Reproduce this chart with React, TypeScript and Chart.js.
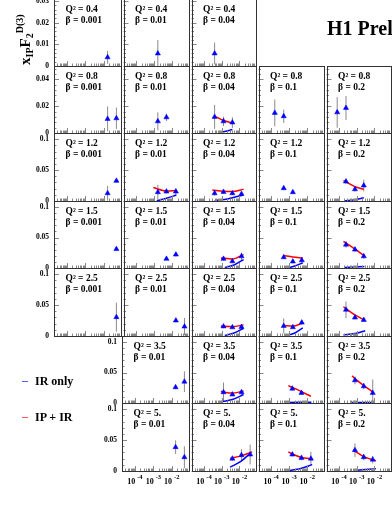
import React, { useEffect, useRef } from 'react';
import { Chart, registerables } from 'chart.js';

Chart.register(...registerables);

// ---------------- data ----------------
const Q2_LABELS = ['0.4', '0.8', '1.2', '1.5', '2.5', '3.5', '5.'];
const BETA_LABELS = ['0.001', '0.01', '0.04', '0.1', '0.2'];

const Y_MAX = [0.031, 0.05, 0.11, 0.11, 0.11, 0.11, 0.11];
const Y_MINOR_STEP = [0.002, 0.004, 0.01, 0.01, 0.01, 0.01, 0.01];
const Y_TICK_LABELS = [
  ['0', '0.01', '0.02', '0.03'],
  ['0', '0.02', '0.04'],
  ['0', '0.05', '0.1'],
  ['0', '0.05', '0.1'],
  ['0', '0.05', '0.1'],
  ['0', '0.05', '0.1'],
  ['0', '0.05', '0.1'],
];

const X_MIN = 2e-5;
const X_MAX = 0.08;
const X_TICK_VALUES = [1e-4, 1e-3, 1e-2];
const X_TICK_BASE = '10';
const X_TICK_EXPONENTS = ['-4', '-3', '-2'];

type Pts = number[] | null;
type Curve = number[][] | null;

// Q2 = 0.4
const XIP_Q04: Pts[] = [[0.016], [0.0016], [0.0004], null, null];
const F2_Q04: Pts[] = [[0.004], [0.0058], [0.0058], null, null];
const ERR_Q04: Pts[] = [[0.003], [0.0062], [0.005], null, null];
const IPIR_Q04: Curve[] = [null, null, null, null, null];
const IR_Q04: Curve[] = [null, null, null, null, null];

// Q2 = 0.8
const XIP_Q08: Pts[] = [[0.016, 0.048], [0.0016, 0.0048], [0.0004, 0.00127, 0.004], [0.00016, 0.0005], [0.00008, 0.00025]];
const F2_Q08: Pts[] = [[0.0105, 0.011], [0.0087, 0.0117], [0.012, 0.0087, 0.0078], [0.015, 0.0125], [0.0154, 0.0187]];
const ERR_Q08: Pts[] = [[0.0093, 0.008], [0.0067, 0.0027], [0.009, 0.0035, 0.004], [0.01, 0.005], [0.0115, 0.009]];
const IPIR_Q08: Curve[] = [null, null, [[0.0004, 0.0126], [0.00127, 0.0093], [0.004, 0.0074]], null, null];
const IR_Q08: Curve[] = [null, null, [[0.0007, 0.0002], [0.0015, 0.0011], [0.004, 0.0026]], null, null];

// Q2 = 1.2
const XIP_Q12: Pts[] = [[0.016, 0.048], [0.0016, 0.0048, 0.016], [0.0004, 0.00127, 0.004, 0.013], [0.0005, 0.0016], [0.00025, 0.0008, 0.0025]];
const F2_Q12: Pts[] = [[0.0125, 0.0326], [0.0142, 0.0152, 0.0152], [0.0125, 0.0147, 0.0125, 0.0114], [0.0207, 0.0142], [0.0315, 0.019, 0.025]];
const ERR_Q12: Pts[] = [[0.012, 0.003], [0.012, 0.003, 0.005], [0.004, 0.003, 0.003, 0.004], [0.003, 0.003], [0.004, 0.004, 0.0095]];
const IPIR_Q12: Curve[] = [
  null,
  [[0.0009, 0.0217], [0.0048, 0.0163], [0.016, 0.0168]],
  [[0.0003, 0.0179], [0.00127, 0.0158], [0.004, 0.0152], [0.017, 0.019]],
  null,
  [[0.00018, 0.033], [0.0008, 0.0233], [0.0025, 0.019]],
];
const IR_Q12: Curve[] = [
  null,
  [[0.0014, 0.0005], [0.0048, 0.0044], [0.017, 0.0098]],
  [[0.0004, 0.0005], [0.0024, 0.0038], [0.016, 0.0098]],
  null,
  [[0.0002, 0.0003], [0.0008, 0.002], [0.0025, 0.0054]],
];

// Q2 = 1.5
const XIP_Q15: Pts[] = [[0.048], [0.0048, 0.016], [0.00127, 0.004, 0.013], [0.0005, 0.0016, 0.005], [0.00025, 0.0008, 0.0025]];
const F2_Q15: Pts[] = [[0.031], [0.015, 0.022], [0.015, 0.011, 0.0192], [0.0176, 0.0106, 0.0127], [0.0383, 0.0302, 0.0192]];
const ERR_Q15: Pts[] = [[0.003], [0.002, 0.003], [0.003, 0.003, 0.006], [0.003, 0.003, 0.005], [0.005, 0.004, 0.004]];
const IPIR_Q15: Curve[] = [
  null,
  null,
  [[0.0009, 0.0166], [0.004, 0.0147], [0.017, 0.022]],
  [[0.0005, 0.0204], [0.0016, 0.018], [0.0057, 0.0166]],
  [[0.00018, 0.0437], [0.0008, 0.031], [0.0027, 0.02]],
];
const IR_Q15: Curve[] = [
  null,
  null,
  [[0.0015, 0.0008], [0.005, 0.0049], [0.017, 0.0139]],
  [[0.0009, 0.0002], [0.0021, 0.0033], [0.0057, 0.0085]],
  [[0.0002, 0.0008], [0.0027, 0.0024]],
];

// Q2 = 2.5
const XIP_Q25: Pts[] = [[0.048], [0.016, 0.048], [0.00127, 0.004, 0.013], [0.0005, 0.0016, 0.005], [0.00025, 0.0008, 0.0025]];
const F2_Q25: Pts[] = [[0.0305], [0.025, 0.0152], [0.0155, 0.014, 0.0145], [0.0163, 0.0142, 0.0217], [0.0424, 0.0298, 0.026]];
const ERR_Q25: Pts[] = [[0.0235], [0.003, 0.014], [0.003, 0.002, 0.003], [0.012, 0.002, 0.004], [0.0135, 0.003, 0.003]];
const IPIR_Q25: Curve[] = [
  null,
  null,
  [[0.0009, 0.0163], [0.004, 0.015], [0.017, 0.018]],
  [[0.0005, 0.0171], [0.0016, 0.016], [0.0057, 0.0212]],
  [[0.00018, 0.0473], [0.0008, 0.034], [0.0027, 0.026]],
];
const IR_Q25: Curve[] = [
  null,
  null,
  [[0.0015, 0.0008], [0.005, 0.0049], [0.017, 0.0126]],
  [[0.0006, 0.0001], [0.0021, 0.0049], [0.0057, 0.013]],
  [[0.00018, 0.0016], [0.0008, 0.004], [0.003, 0.0086]],
];

// Q2 = 3.5
const XIP_Q35: Pts[] = [null, [0.016, 0.048], [0.00127, 0.004, 0.013], [0.0015, 0.0048], [0.0008, 0.0025, 0.008]];
const F2_Q35: Pts[] = [null, [0.0258, 0.035], [0.0176, 0.0139, 0.0176], [0.0236, 0.0166], [0.0372, 0.0274, 0.0166]];
const ERR_Q35: Pts[] = [null, [0.003, 0.017], [0.016, 0.002, 0.004], [0.003, 0.003], [0.0065, 0.005, 0.022]];
const IPIR_Q35: Curve[] = [
  null,
  null,
  [[0.0009, 0.0187], [0.004, 0.0163], [0.017, 0.0196]],
  [[0.0009, 0.0285], [0.0015, 0.0256], [0.0048, 0.0186], [0.016, 0.0111]],
  [[0.00055, 0.0448], [0.0008, 0.04], [0.0025, 0.0285], [0.008, 0.0176], [0.0093, 0.015]],
];
const IR_Q35: Curve[] = [
  null,
  null,
  [[0.0009, 0.002], [0.004, 0.0057], [0.017, 0.0139]],
  [[0.0009, 0.0008], [0.017, 0.0013]],
  [[0.00055, 0.0008], [0.0093, 0.0008]],
];

// Q2 = 5.
const XIP_Q5: Pts[] = [null, [0.016, 0.048], [0.004, 0.013, 0.04], [0.0015, 0.0048, 0.016], [0.0008, 0.0025, 0.008]];
const F2_Q5: Pts[] = [null, [0.0386, 0.0223], [0.02, 0.0256, 0.0266], [0.0266, 0.0212, 0.02], [0.0337, 0.0223, 0.0184]];
const ERR_Q5: Pts[] = [null, [0.011, 0.0176], [0.003, 0.0095, 0.016], [0.003, 0.004, 0.011], [0.011, 0.005, 0.006]];
const IPIR_Q5: Curve[] = [
  null,
  null,
  [[0.003, 0.0204], [0.013, 0.0245], [0.052, 0.031]],
  [[0.0009, 0.031], [0.0015, 0.0275], [0.0048, 0.022], [0.019, 0.0195]],
  [[0.00062, 0.034], [0.0027, 0.0228], [0.012, 0.0166]],
];
const IR_Q5: Curve[] = [
  null,
  null,
  [[0.003, 0.0062], [0.012, 0.0155], [0.045, 0.0298]],
  [[0.0009, 0.0005], [0.0044, 0.0041], [0.019, 0.0103]],
  [[0.00062, 0.0008], [0.012, 0.0037]],
];

const ROWS_XIP = [XIP_Q04, XIP_Q08, XIP_Q12, XIP_Q15, XIP_Q25, XIP_Q35, XIP_Q5];
const ROWS_F2 = [F2_Q04, F2_Q08, F2_Q12, F2_Q15, F2_Q25, F2_Q35, F2_Q5];
const ROWS_ERR = [ERR_Q04, ERR_Q08, ERR_Q12, ERR_Q15, ERR_Q25, ERR_Q35, ERR_Q5];
const ROWS_IPIR = [IPIR_Q04, IPIR_Q08, IPIR_Q12, IPIR_Q15, IPIR_Q25, IPIR_Q35, IPIR_Q5];
const ROWS_IR = [IR_Q04, IR_Q08, IR_Q12, IR_Q15, IR_Q25, IR_Q35, IR_Q5];

// ---------------- layout ----------------
const COL_EDGES = [54, 122, 190, 257, 325, 392];
const ROW_EDGES = [-1, 66, 133, 201, 268, 336, 403, 471];
const SERIF = '"Liberation Serif", "Times New Roman", serif';

function Panel({ r, c }: { r: number; c: number }) {
  const ref = useRef<HTMLCanvasElement>(null);
  const firstCol = ROWS_XIP[r].findIndex((v) => v !== null);
  const showY = c === firstCol;
  const showX = r === 6;
  const ML = showY ? 40 : 3;
  const MR = 3;
  const MT = 7;
  const MB = showX ? 24 : 7;
  const W = COL_EDGES[c + 1] - COL_EDGES[c];
  const H = ROW_EDGES[r + 1] - ROW_EDGES[r];
  const cw = W + ML + MR;
  const ch = H + MT + MB;

  useEffect(() => {
    const xs = ROWS_XIP[r][c] as number[];
    const fs = ROWS_F2[r][c] as number[];
    const es = ROWS_ERR[r][c] as number[];
    const ipir = ROWS_IPIR[r][c];
    const ir = ROWS_IR[r][c];
    const ymax = Y_MAX[r];

    const panelPlugin = {
      id: 'panel' + r + '_' + c,
      beforeDatasetsDraw(chart: any) {
        const { ctx, chartArea: a, scales } = chart;
        const sx = scales.x;
        const sy = scales.y;
        ctx.save();
        ctx.beginPath();
        ctx.rect(a.left, a.top, a.right - a.left, a.bottom - a.top);
        ctx.clip();
        ctx.strokeStyle = '#8a8a8a';
        ctx.lineWidth = 1;
        xs.forEach((xv, i) => {
          const px = sx.getPixelForValue(xv);
          ctx.beginPath();
          ctx.moveTo(px, sy.getPixelForValue(fs[i] - es[i]));
          ctx.lineTo(px, sy.getPixelForValue(fs[i] + es[i]));
          ctx.stroke();
        });
        ctx.restore();
      },
      afterDraw(chart: any) {
        const { ctx, chartArea: a, scales } = chart;
        const sx = scales.x;
        const sy = scales.y;
        ctx.save();
        // y ticks (inside, left)
        ctx.strokeStyle = '#888';
        ctx.lineWidth = 1;
        const labelVals = Y_TICK_LABELS[r].map(Number);
        const step = Y_MINOR_STEP[r];
        for (let k = 0; k * step <= ymax + 1e-9; k++) {
          const v = k * step;
          const major = labelVals.some((lv) => Math.abs(lv - v) < 1e-9);
          const py = Math.round(sy.getPixelForValue(v)) + 0.5;
          ctx.beginPath();
          ctx.moveTo(a.left, py);
          ctx.lineTo(a.left + (major ? 5 : 2.5), py);
          ctx.stroke();
        }
        // x ticks (inside, bottom), log
        for (let d = -5; d <= -1; d++) {
          for (let m = 1; m <= 9; m++) {
            const v = m * Math.pow(10, d);
            if (v < X_MIN || v > X_MAX) continue;
            const px = Math.round(sx.getPixelForValue(v)) + 0.5;
            ctx.beginPath();
            ctx.moveTo(px, a.bottom);
            ctx.lineTo(px, a.bottom - (m === 1 ? 5 : 2.5));
            ctx.stroke();
          }
        }
        // frame
        ctx.strokeStyle = '#333';
        ctx.lineWidth = 1;
        ctx.strokeRect(Math.round(a.left) + 0.5, Math.round(a.top) + 0.5, Math.round(a.right - a.left), Math.round(a.bottom - a.top));
        // panel text
        ctx.fillStyle = '#000';
        ctx.textAlign = 'left';
        ctx.textBaseline = 'alphabetic';
        ctx.font = 'bold 9.5px ' + SERIF;
        ctx.fillText('Q² = ' + Q2_LABELS[r], a.left + 11.5, a.top + 12.5);
        ctx.fillText('β = ' + BETA_LABELS[c], a.left + 11.5, a.top + 24);
        // y labels
        if (showY) {
          ctx.font = 'bold 7.5px ' + SERIF;
          ctx.textAlign = 'right';
          ctx.textBaseline = 'middle';
          Y_TICK_LABELS[r].forEach((lab) => {
            ctx.fillText(lab, a.left - 5, sy.getPixelForValue(Number(lab)));
          });
        }
        // x labels
        if (showX) {
          ctx.textAlign = 'left';
          ctx.textBaseline = 'alphabetic';
          X_TICK_VALUES.forEach((v, i) => {
            const px = sx.getPixelForValue(v);
            ctx.font = 'bold 8px ' + SERIF;
            const wb = ctx.measureText(X_TICK_BASE).width;
            ctx.font = 'bold 6.5px ' + SERIF;
            const we = ctx.measureText(X_TICK_EXPONENTS[i]).width;
            const gap = 2;
            const start = px - (wb + gap + we) / 2;
            ctx.font = 'bold 8px ' + SERIF;
            ctx.fillText(X_TICK_BASE, start, a.bottom + 13);
            ctx.font = 'bold 6.5px ' + SERIF;
            ctx.fillText(X_TICK_EXPONENTS[i], start + wb + gap, a.bottom + 8);
          });
        }
        ctx.restore();
      },
    };

    const datasets: any[] = [
      {
        type: 'scatter',
        data: xs.map((x, i) => ({ x, y: fs[i] })),
        pointStyle: 'triangle',
        pointRadius: 3,
        pointBorderWidth: 0.5,
        backgroundColor: '#0000ff',
        borderColor: '#0000ff',
      },
    ];
    if (ipir) {
      datasets.push({
        type: 'line',
        data: ipir.map((p) => ({ x: p[0], y: p[1] })),
        borderColor: '#ff0000',
        borderWidth: 1.5,
        pointRadius: 0,
        fill: false,
        cubicInterpolationMode: 'monotone',
      });
    }
    if (ir) {
      datasets.push({
        type: 'line',
        data: ir.map((p) => ({ x: p[0], y: p[1] })),
        borderColor: '#0000ff',
        borderWidth: 1.5,
        pointRadius: 0,
        fill: false,
        cubicInterpolationMode: 'monotone',
      });
    }

    const chart = new Chart(ref.current as HTMLCanvasElement, {
      type: 'scatter',
      data: { datasets },
      options: {
        animation: false,
        responsive: false,
        devicePixelRatio: 1,
        events: [],
        layout: { padding: { left: ML, right: MR, top: MT, bottom: MB } },
        plugins: { legend: { display: false }, tooltip: { enabled: false } },
        scales: {
          x: { type: 'logarithmic', min: X_MIN, max: X_MAX, display: false },
          y: { type: 'linear', min: 0, max: ymax, display: false },
        },
      } as any,
      plugins: [panelPlugin],
    });
    return () => chart.destroy();
  }, [r, c]);

  return (
    <canvas
      ref={ref}
      width={cw}
      height={ch}
      style={{
        position: 'absolute',
        left: COL_EDGES[c] - ML,
        top: ROW_EDGES[r] - MT,
        width: cw,
        height: ch,
      }}
    />
  );
}

export default function App() {
  const panels: React.ReactNode[] = [];
  ROWS_XIP.forEach((row, r) => {
    row.forEach((cell, c) => {
      if (cell) panels.push(<Panel key={r + '_' + c} r={r} c={c} />);
    });
  });
  const subStyle: React.CSSProperties = { fontSize: 10, lineHeight: 0, verticalAlign: 'baseline', position: 'relative', top: 3 };
  const supStyle: React.CSSProperties = { fontSize: 10, lineHeight: 0, verticalAlign: 'baseline', position: 'relative', top: -7 };
  return (
    <div
      style={{
        position: 'absolute',
        left: 0,
        top: 0,
        width: 392,
        height: 508,
        overflow: 'hidden',
        background: '#fff',
        fontFamily: SERIF,
      }}
    >
      {panels}
      <div
        style={{
          position: 'absolute',
          left: 18.4,
          top: 65,
          transform: 'rotate(-90deg)',
          transformOrigin: '0 0',
          whiteSpace: 'nowrap',
          lineHeight: 1,
          fontSize: 15,
          fontWeight: 'bold',
        }}
      >
        x<span style={subStyle}>IP</span>F<span style={subStyle}>2</span>
        <span style={supStyle}>D(3)</span>
      </div>
      <div
        style={{
          position: 'absolute',
          left: 327,
          top: 18,
          fontSize: 20,
          lineHeight: 1,
          fontWeight: 'bold',
          whiteSpace: 'nowrap',
        }}
      >
        H1 Preliminary
      </div>
      <div style={{ position: 'absolute', left: 22, top: 380.5, width: 6, height: 1, background: '#5a5aff' }} />
      <div style={{ position: 'absolute', left: 35, top: 375, fontSize: 12, lineHeight: 1, fontWeight: 'bold', whiteSpace: 'nowrap' }}>
        IR only
      </div>
      <div style={{ position: 'absolute', left: 22, top: 416.5, width: 6, height: 1, background: '#ff5a5a' }} />
      <div style={{ position: 'absolute', left: 35, top: 411, fontSize: 12, lineHeight: 1, fontWeight: 'bold', whiteSpace: 'nowrap' }}>
        IP + IR
      </div>
    </div>
  );
}
